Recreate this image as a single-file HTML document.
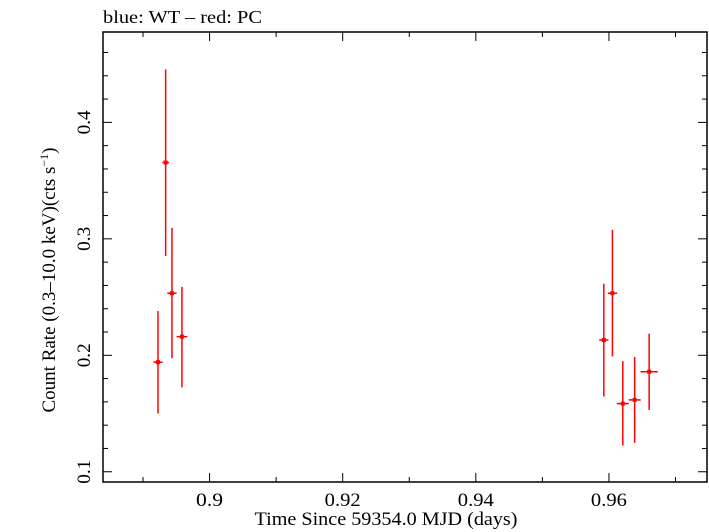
<!DOCTYPE html>
<html><head><meta charset="utf-8"><style>
body{margin:0;background:#fff}
svg{display:block;font-family:"Liberation Serif","DejaVu Serif",serif}
</style></head><body>
<svg id="chart" width="709" height="532" xmlns="http://www.w3.org/2000/svg">
<text x="103" y="23" font-size="18" textLength="159" lengthAdjust="spacingAndGlyphs">blue: WT – red: PC</text>
<rect x="103" y="32" width="604" height="450" fill="none" stroke="#000" stroke-width="1.5"/>
<g id="axes"></g>
<g id="marks"></g>
<text x="386" y="525" font-size="19" text-anchor="middle" textLength="263" lengthAdjust="spacingAndGlyphs">Time Since 59354.0 MJD (days)</text>
<text transform="translate(55,280) rotate(-90)" font-size="19" text-anchor="middle">Count Rate (0.3–10.0 keV)(cts s<tspan dy="-7" font-size="12">−1</tspan><tspan dy="7">)</tspan></text>
</svg>
<script>
const times=[0.89225,0.8934,0.89435,0.89585,0.95923,0.96052,0.96208,0.96386,0.96604];
const timeErr=[0.0007,0.0005,0.0007,0.0008,0.0007,0.0007,0.0009,0.0009,0.0013];
const rates=[0.1941,0.3655,0.2533,0.216,0.2131,0.2533,0.1585,0.1617,0.1859];
const rateHi=[0.238,0.4455,0.3094,0.2587,0.2615,0.3077,0.195,0.1985,0.2186];
const rateLo=[0.150,0.2853,0.1975,0.1725,0.1646,0.199,0.1225,0.1248,0.1531];
const xTickLabels=["0.9","0.92","0.94","0.96"];
const yTickLabels=["0.1","0.2","0.3","0.4"];
const X0=103,X1=707,Y0=32,Y1=482,xmin=0.88399,xmax=0.97473,ymin=0.0912,ymax=0.4776;
const sx=v=>X0+(v-xmin)/(xmax-xmin)*(X1-X0);
const sy=v=>Y1-(v-ymin)/(ymax-ymin)*(Y1-Y0);
const NS="http://www.w3.org/2000/svg";
function mk(tag,attrs,parent){const e=document.createElementNS(NS,tag);for(const k in attrs)e.setAttribute(k,attrs[k]);parent.appendChild(e);return e;}
const axes=document.getElementById('axes'),marks=document.getElementById('marks');
for(let i=0;i<=9;i++){const v=0.89+i*0.01;if(v>xmax)break;const x=sx(v);const major=Math.abs(Math.round(v*100)%2)===0;const L=major?9:5;
 const t1=mk('line',{x1:x,x2:x,y1:Y1,y2:Y1-L,stroke:'#000','stroke-width':1},axes);
 
 
 const t2=mk('line',{x1:x,x2:x,y1:Y0,y2:Y0+L,stroke:'#000','stroke-width':1},axes);
 
 }
xTickLabels.forEach(s=>{const t=mk('text',{x:sx(parseFloat(s)),y:506,'font-size':19,'text-anchor':'middle',textLength:s.length*9,lengthAdjust:'spacingAndGlyphs'},axes);t.textContent=s;
 
 });
for(let i=0;i<=20;i++){const v=0.1+i*0.02;if(v>ymax)break;const y=sy(v);const major=(i%5===0);const L=major?9:5;
 const t1=mk('line',{x1:X0,x2:X0+L,y1:y,y2:y,stroke:'#000','stroke-width':1},axes);
 
 
 const t2=mk('line',{x1:X1,x2:X1-L,y1:y,y2:y,stroke:'#000','stroke-width':1},axes);
 
 }
yTickLabels.forEach(s=>{const y=sy(parseFloat(s));const t=mk('text',{transform:`translate(90,${y}) rotate(-90)`,'font-size':19,'text-anchor':'middle',textLength:24,lengthAdjust:'spacingAndGlyphs'},axes);t.textContent=s;
 
 });
times.forEach((t,i)=>{const g=mk('g',{},marks);
 
 
 mk('line',{x1:sx(t),x2:sx(t),y1:sy(rateHi[i]),y2:sy(rateLo[i]),stroke:'#f00','stroke-width':1.5},g);
 mk('line',{x1:sx(t-timeErr[i]),x2:sx(t+timeErr[i]),y1:sy(rates[i]),y2:sy(rates[i]),stroke:'#f00','stroke-width':1.5},g);
 mk('rect',{x:sx(t)-2,y:sy(rates[i])-2,width:4,height:4,fill:'#f00'},g);});
</script>
</body></html>
